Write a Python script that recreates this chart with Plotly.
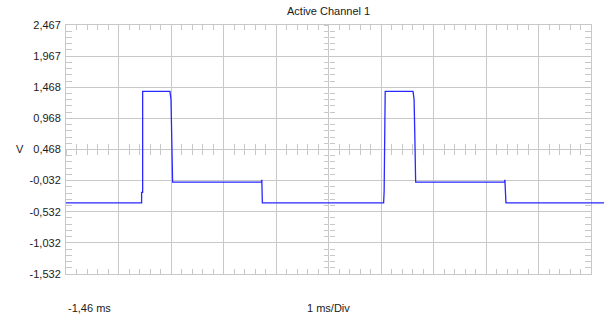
import plotly.graph_objects as go

# ---- data ----
time_ms = [-1.46, -0.02, -0.02, 0.00, 0.00, 0.52, 0.54, 0.555, 0.57, 2.26, 2.27, 2.28,
           4.59, 4.60, 4.62, 5.15, 5.17, 5.185, 5.20, 6.89, 6.90, 6.92, 8.79]
volts = [-0.39, -0.39, -0.22, -0.22, 1.40, 1.40, 1.27, 0.66, -0.055, -0.055, -0.02, -0.39,
         -0.39, -0.20, 1.40, 1.40, 1.27, 0.66, -0.055, -0.055, -0.02, -0.39, -0.39]

y_ticks = [-1.532, -1.032, -0.532, -0.032, 0.468, 0.968, 1.468, 1.967, 2.467]
y_tick_text = ["-1,532", "-1,032", "-0,532", "-0,032", "0,468", "0,968", "1,468", "1,967", "2,467"]
x_start = -1.46
x_div = 1.0
n_div = 10
title_text = "Active Channel 1"
y_unit = "V"
x_start_text = "-1,46 ms"
x_scale_text = "1 ms/Div"

# ---- layout geometry ----
W, H = 609, 320
L, R, T, B = 66, 5, 25, 46
plot_w = 525
inner_w = W - L - R
D = plot_w / inner_w
px_per_unit = plot_w / (n_div * x_div)
x_end = x_start + n_div * x_div
x2_end = x_start + inner_w / px_per_unit
ymin, ymax = y_ticks[0], y_ticks[-1]
ydiv = (ymax - ymin) / 8
ycenter = y_ticks[4]
yc_pos = (ycenter - ymin) / (ymax - ymin)
inner_h = H - T - B

grid = "#c8c8c8"
font = dict(family="Liberation Sans, Arial, sans-serif", size=11, color="#1a1a1a")

fig = go.Figure()
# invisible helper traces so the crosshair axes are drawn
for xa, ya in [("x", "y"), ("x", "y2"), ("x", "y3"), ("x3", "y"), ("x4", "y")]:
    fig.add_trace(go.Scatter(x=[x_start], y=[ymin], xaxis=xa, yaxis=ya, mode="markers",
                             marker=dict(opacity=0), showlegend=False, hoverinfo="skip"))
# the signal, on a slightly wider (invisible) axis pair so it runs past the right border
fig.add_trace(go.Scatter(x=time_ms, y=volts, mode="lines", xaxis="x2", yaxis="y5",
                         line=dict(color="rgb(40,40,255)", width=1.3), hoverinfo="skip",
                         showlegend=False))

common_x = dict(range=[x_start, x_end], tick0=x_start, dtick=x_div, showticklabels=False,
                zeroline=False)
common_y = dict(range=[ymin, ymax], tickmode="array", tickvals=y_ticks, zeroline=False)

fig.update_layout(
    width=W, height=H, margin=dict(l=L, r=R, t=T, b=B),
    paper_bgcolor="white", plot_bgcolor="rgba(0,0,0,0)",
    font=font, showlegend=False,
    xaxis=dict(**common_x, domain=[0, D], anchor="y", showgrid=True, gridcolor=grid, gridwidth=1,
               showline=True, linecolor=grid, linewidth=1, mirror="allticks",
               ticks="inside", ticklen=5, tickcolor=grid,
               minor=dict(tickmode="linear", tick0=x_start, dtick=x_div / 5, ticks="inside",
                          ticklen=5, tickcolor=grid, showgrid=False)),
    xaxis2=dict(range=[x_start, x2_end], domain=[0, 1], anchor="y5", visible=False,
                showgrid=False, zeroline=False),
    yaxis5=dict(range=[ymin, ymax], domain=[0, 1], anchor="x2", visible=False,
                showgrid=False, zeroline=False),
    xaxis3=dict(**common_x, overlaying="x", anchor="free", position=yc_pos, showgrid=False,
                showline=False, ticks="inside", ticklen=5, tickcolor=grid,
                minor=dict(tickmode="linear", tick0=x_start, dtick=x_div / 5, ticks="inside",
                           ticklen=5, tickcolor=grid)),
    xaxis4=dict(**common_x, overlaying="x", anchor="free", position=yc_pos, showgrid=False,
                showline=False, ticks="outside", ticklen=5, tickcolor=grid,
                minor=dict(tickmode="linear", tick0=x_start, dtick=x_div / 5, ticks="outside",
                           ticklen=5, tickcolor=grid)),
    yaxis=dict(**common_y, ticktext=y_tick_text, anchor="x", showgrid=True, gridcolor=grid,
               gridwidth=1, showline=True, linecolor=grid, linewidth=1, mirror="allticks",
               ticks="inside", ticklen=6, tickcolor=grid, ticklabelstandoff=2,
               tickfont=font,
               minor=dict(tickmode="linear", tick0=ymin, dtick=ydiv / 5, ticks="inside",
                          ticklen=6, tickcolor=grid, showgrid=False)),
    yaxis2=dict(**common_y, overlaying="y", anchor="free", position=D / 2, showgrid=False,
                showline=False, showticklabels=False, ticks="inside", ticklen=5, tickcolor=grid,
                minor=dict(tickmode="linear", tick0=ymin, dtick=ydiv / 5, ticks="inside",
                           ticklen=5, tickcolor=grid)),
    yaxis3=dict(**common_y, overlaying="y", anchor="free", position=D / 2, showgrid=False,
                showline=False, showticklabels=False, ticks="outside", ticklen=5, tickcolor=grid,
                minor=dict(tickmode="linear", tick0=ymin, dtick=ydiv / 5, ticks="outside",
                           ticklen=5, tickcolor=grid)),
)

fig.add_annotation(text=title_text, xref="paper", yref="paper", x=D / 2,
                   y=1 + (T - 11) / inner_h, xanchor="center", yanchor="middle",
                   showarrow=False, font=font)
fig.add_annotation(text=y_unit, xref="paper", yref="paper", x=(20 - L) / inner_w,
                   y=yc_pos, xanchor="center", yanchor="middle", showarrow=False, font=font)
fig.add_annotation(text=x_start_text, xref="paper", yref="paper", x=0,
                   y=-(308 - (H - B)) / inner_h, xanchor="left", yanchor="middle",
                   showarrow=False, font=font)
fig.add_annotation(text=x_scale_text, xref="paper", yref="paper", x=D / 2,
                   y=-(308 - (H - B)) / inner_h, xanchor="center", yanchor="middle",
                   showarrow=False, font=font)

fig.write_html("out.html", config={"displayModeBar": False, "staticPlot": True},
               post_script="document.body.style.margin='0';document.body.style.overflow='hidden';")
